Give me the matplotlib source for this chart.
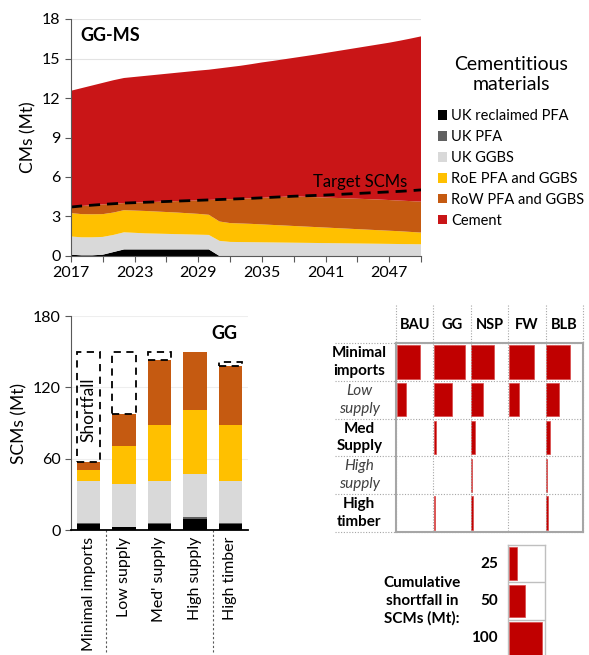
import numpy as np
import matplotlib.pyplot as plt
from matplotlib.lines import Line2D

plt.rcParams['font.family'] = ['Lato', 'DejaVu Sans']

W, H = 589, 655

# ---- top chart data (cumulative tops of the stack, Mt) ----
years = np.arange(2017, 2051)
top_reclaimed = [0.10, 0.05, 0.05, 0.10, 0.30, 0.50, 0.50, 0.50, 0.50, 0.50, 0.50, 0.50, 0.50, 0.50,
                 0.00, 0.00, 0.00, 0.00, 0.00, 0.00, 0.00, 0.00, 0.00, 0.00, 0.00, 0.00, 0.00, 0.00,
                 0.00, 0.00, 0.00, 0.00, 0.00, 0.00]
top_ukpfa = top_reclaimed
top_ggbs = [1.48, 1.42, 1.42, 1.45, 1.60, 1.80, 1.76, 1.72, 1.70, 1.68, 1.66, 1.64, 1.62, 1.60,
            1.15, 1.07, 1.06, 1.05, 1.04, 1.03, 1.02, 1.01, 1.00, 0.99, 0.98, 0.97, 0.96, 0.95,
            0.94, 0.93, 0.92, 0.91, 0.90, 0.89]
top_roe = [3.26, 3.18, 3.17, 3.18, 3.30, 3.48, 3.45, 3.42, 3.38, 3.34, 3.30, 3.25, 3.20, 3.13,
           2.62, 2.50, 2.47, 2.44, 2.40, 2.36, 2.32, 2.28, 2.24, 2.20, 2.16, 2.12, 2.08, 2.04,
           2.00, 1.96, 1.92, 1.88, 1.83, 1.78]
top_row = [3.72, 3.80, 3.86, 3.92, 3.97, 4.02, 4.05, 4.08, 4.11, 4.14, 4.17, 4.20, 4.23, 4.26,
           4.29, 4.32, 4.35, 4.38, 4.42, 4.46, 4.50, 4.54, 4.50, 4.47, 4.44, 4.41, 4.38, 4.35,
           4.32, 4.29, 4.25, 4.21, 4.17, 4.13]
top_cement = [12.55, 12.75, 12.95, 13.15, 13.35, 13.52, 13.60, 13.68, 13.76, 13.84, 13.92, 14.00, 14.08, 14.15,
              14.25, 14.35, 14.45, 14.57, 14.70, 14.81, 14.93, 15.05, 15.17, 15.29, 15.42, 15.55, 15.68, 15.81,
              15.94, 16.07, 16.20, 16.35, 16.51, 16.68]
target_scms = [3.72, 3.80, 3.86, 3.92, 3.97, 4.02, 4.05, 4.08, 4.11, 4.14, 4.17, 4.20, 4.23, 4.26,
               4.29, 4.32, 4.35, 4.38, 4.42, 4.46, 4.50, 4.54, 4.57, 4.60, 4.63, 4.67, 4.71, 4.75,
               4.79, 4.83, 4.87, 4.91, 4.96, 5.02]

materials = ["UK reclaimed PFA", "UK PFA", "UK GGBS", "RoE PFA and GGBS", "RoW PFA and GGBS", "Cement"]
mat_colors = ["#000000", "#606060", "#D9D9D9", "#FFC000", "#C55A11", "#C91517"]

# ---- bottom-left bar chart data (GG scenario, cumulative tops, Mt) ----
supply_cases = ["Minimal imports", "Low supply", "Med' supply", "High supply", "High timber"]
bar_reclaimed = [5.0, 2.2, 5.0, 9.5, 5.0]
bar_ukpfa = [5.5, 2.8, 5.5, 11.0, 5.5]
bar_ggbs = [41.5, 39.0, 41.5, 47.4, 41.5]
bar_roe = [50.2, 70.6, 88.0, 100.6, 88.0]
bar_row = [57.2, 97.6, 143.0, 149.4, 138.2]
bar_target = [150.0, 150.0, 150.0, 149.4, 141.0]

# ---- bottom-right shortfall grid (Mt) ----
scenarios = ["BAU", "GG", "NSP", "FW", "BLB"]
row_labels = ["Minimal\nimports", "Low\nsupply", "Med\nSupply", "High\nsupply", "High\ntimber"]
row_bold = [True, False, True, False, True]
shortfall = {
    "BAU": [69, 27, 0, 0, 0],
    "GG": [90, 52, 7, 0, 2],
    "NSP": [67, 33, 9, 1.5, 3],
    "FW": [75, 29, 0, 0, 0],
    "BLB": [71, 36, 12, 1, 5],
}
key_values = [25, 50, 100]
cell_w = 110  # Mt per grid column


def px_box(l, t, r, b):
    return [l / W, 1 - b / H, (r - l) / W, (b - t) / H]


fig = plt.figure(figsize=(W / 100, H / 100), dpi=100)

# ================= top area chart =================
ax = fig.add_axes(px_box(71, 19, 421, 256))
tops = [top_reclaimed, top_ukpfa, top_ggbs, top_roe, top_row, top_cement]
layers = []
prev = np.zeros(len(years))
for t in tops:
    t = np.array(t)
    layers.append(t - prev)
    prev = t
ax.stackplot(years, layers, colors=mat_colors, labels=materials, linewidth=0)
ax.plot(years, target_scms, color="black", linestyle=(0, (4, 2.5)), linewidth=2)
ax.text(2044.3, 5.6, "Target SCMs", fontsize=12, ha="center", va="center")
ax.text(0.026, 0.93, "GG-MS", transform=ax.transAxes, fontsize=13, fontweight="bold", va="center")

ax.set_xlim(2017, 2050)
ax.set_ylim(0, 18)
ax.set_yticks(np.arange(0, 19, 3))
xt = np.arange(2017, 2051, 3)
ax.set_xticks(xt)
ax.set_xticklabels([str(y) if i % 2 == 0 else "" for i, y in enumerate(xt)])
ax.grid(axis="y", color="#E3E3E3", linewidth=0.8)
ax.set_axisbelow(True)
for s in ["top", "right"]:
    ax.spines[s].set_visible(False)
for s in ["left", "bottom"]:
    ax.spines[s].set_color("#595959")
ax.tick_params(axis="both", labelsize=11.5, colors="#595959", labelcolor="black", length=4)
ax.set_ylabel("CMs (Mt)", fontsize=12.5, labelpad=4)

leg = fig.legend(loc="upper left", bbox_to_anchor=(432 / W, 1 - 50 / H), frameon=False,
                 title="Cementitious\nmaterials", title_fontsize=14, fontsize=10.5,
                 handlelength=0.65, handleheight=0.65, handletextpad=0.25, labelspacing=0.47,
                 borderaxespad=0)
leg.get_title().set_multialignment("center")
leg._legend_box.sep = 12

# ================= bottom-left bar chart =================
ax2 = fig.add_axes(px_box(71, 316, 248, 530))
x = np.arange(len(supply_cases))
bw = 0.66
stack = [bar_reclaimed, bar_ukpfa, bar_ggbs, bar_roe, bar_row]
prev = np.zeros(len(x))
for vals, col in zip(stack, mat_colors[:5]):
    vals = np.array(vals)
    ax2.bar(x, vals - prev, bottom=prev, width=bw, color=col, linewidth=0)
    prev = vals
gap = np.array(bar_target) - np.array(bar_row)
for i in range(len(x)):
    if gap[i] > 0.5:
        ax2.bar(x[i], gap[i], bottom=bar_row[i], width=bw, fill=False, edgecolor="black",
                linestyle=(0, (4, 3)), linewidth=1.3)
ax2.text(0, 101, "Shortfall", rotation=90, fontsize=12.5, ha="center", va="center")
ax2.text(0.94, 0.92, "GG", transform=ax2.transAxes, fontsize=13, fontweight="bold",
         ha="right", va="center")
for xs in [0.5, 3.5]:
    ax2.axvline(xs, ymin=-0.57, ymax=0, color="#595959", linestyle=(0, (2, 2)),
                linewidth=0.8, clip_on=False)
ax2.set_xlim(-0.5, 4.5)
ax2.set_ylim(0, 180)
ax2.set_yticks([0, 60, 120, 180])
ax2.set_xticks(x)
ax2.set_xticklabels(supply_cases, rotation=90, fontsize=11.5)
ax2.grid(axis="y", color="#EEEEEE", linewidth=0.8)
ax2.set_axisbelow(True)
for s in ["top", "right"]:
    ax2.spines[s].set_visible(False)
ax2.spines["left"].set_color("#595959")
ax2.spines["bottom"].set_color("black")
ax2.spines["bottom"].set_linewidth(1.3)
ax2.tick_params(axis="y", labelsize=11.5, colors="#595959", labelcolor="black", length=4)
ax2.tick_params(axis="x", length=0, pad=5)
ax2.set_ylabel("SCMs (Mt)", fontsize=12.5, labelpad=4)

# ================= bottom-right shortfall grid =================
ax3 = fig.add_axes(px_box(396, 343, 583, 532))
red = "#C00000"
for j, sc in enumerate(scenarios):
    vals = shortfall[sc]
    for i, v in enumerate(vals):
        if v > 0:
            ax3.barh(i + 0.5, v, left=j * cell_w + 2, height=0.88, color=red,
                     edgecolor="#D84848", linewidth=0.5)
    ax3.text(j * cell_w + cell_w / 2, -0.48, sc, fontsize=10.5, fontweight="bold",
             ha="center", va="center")
ncol = len(scenarios)
nrow = len(row_labels)
for j in range(ncol + 1):
    ax3.add_line(Line2D([j * cell_w, j * cell_w], [-1.0, nrow], color="#A6A6A6",
                        linestyle=(0, (1, 1.5)), linewidth=0.8, clip_on=False))
for i in range(nrow + 1):
    ax3.add_line(Line2D([-180, ncol * cell_w], [i, i], color="#A6A6A6",
                        linestyle=(0, (1, 1.5)), linewidth=0.8, clip_on=False))
for i, (lab, b) in enumerate(zip(row_labels, row_bold)):
    ax3.text(-108, i + 0.5, lab, fontsize=11, ha="center", va="center", linespacing=1.35,
             fontweight="bold" if b else "normal", fontstyle="normal" if b else "italic",
             color="black" if b else "#404040")
ax3.set_xlim(0, ncol * cell_w)
ax3.set_ylim(nrow, 0)
ax3.set_xticks([])
ax3.set_yticks([])
for s in ax3.spines.values():
    s.set_color("#A6A6A6")
    s.set_linewidth(1.5)

# ---- key for shortfall bars ----
ax4 = fig.add_axes(px_box(508, 545, 545, 657))
for i, v in enumerate(key_values):
    ax4.barh(i + 0.5, v, left=2, height=0.88, color=red, edgecolor="#D84848", linewidth=0.5)
    ax4.text(-30, i + 0.5, str(v), fontsize=11, fontweight="bold", ha="right", va="center")
for i in [1, 2]:
    ax4.axhline(i, color="#BFBFBF", linewidth=1)
ax4.text(-255, 1.5, "Cumulative\nshortfall in\nSCMs (Mt):", fontsize=11, fontweight="bold",
         ha="center", va="center", linespacing=1.3)
ax4.set_xlim(0, cell_w)
ax4.set_ylim(3, 0)
ax4.set_xticks([])
ax4.set_yticks([])
for s in ax4.spines.values():
    s.set_color("#BFBFBF")
    s.set_linewidth(1)

fig.savefig("out.png", dpi=100)
